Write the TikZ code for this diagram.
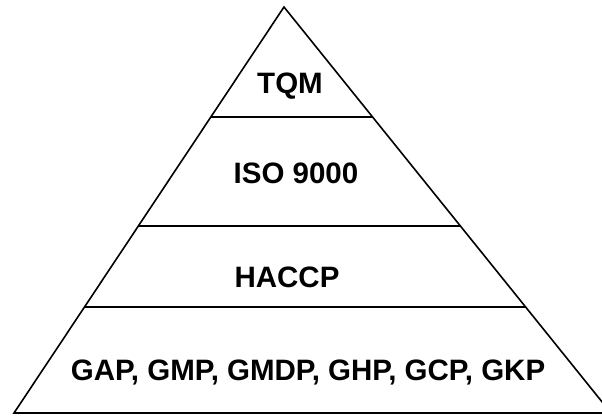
\documentclass[tikz,border=0pt]{standalone}
\usepackage{fontspec}
\setmainfont{Liberation Sans}
\begin{document}
\begin{tikzpicture}[x=1pt,y=-1pt,
  edge/.style={line width=1.6pt, line cap=round, line join=miter},
  tierline/.style={line width=1.5pt},
  tierlabel/.style={anchor=base, inner sep=0pt, font=\fontsize{29.5}{36}\selectfont\bfseries}]
  \useasboundingbox (0,0) rectangle (602,416);
  \clip (0,0) rectangle (602,416);
  % outline of the pyramid
  \coordinate (apex) at (284,7);
  \coordinate (bl) at (14,413);
  \coordinate (br) at (611,413);
  \draw[edge] (bl) -- (apex) -- (br) -- cycle;
  % tier boundaries
  \coordinate (l1) at (211,117);  \coordinate (r1) at (372.5,117);
  \coordinate (l2) at (138.5,226); \coordinate (r2) at (460,226);
  \coordinate (l3) at (85,307);   \coordinate (r3) at (524.5,307);
  \draw[tierline] (l1) -- (r1);
  \draw[tierline] (l2) -- (r2);
  \draw[tierline] (l3) -- (r3);
  % tier labels
  \node[tierlabel] (tqm) at (290,93) {TQM};
  \node[tierlabel] (iso) at (296,183) {ISO 9000};
  \node[tierlabel] (haccp) at (287,287) {HACCP};
  \node[tierlabel] (gxp) at (308,380) {GAP, GMP, GMDP, GHP, GCP, GKP};
\end{tikzpicture}
\end{document}
